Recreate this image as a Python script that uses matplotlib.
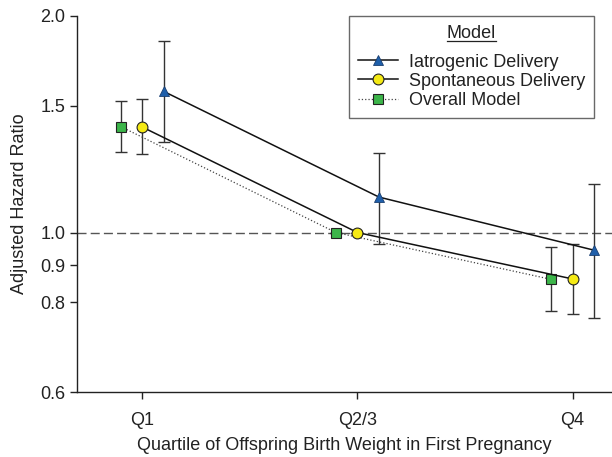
import matplotlib
matplotlib.use('Agg')
import matplotlib.pyplot as plt
from matplotlib.ticker import FixedLocator, NullLocator
from matplotlib.lines import Line2D

plt.rcParams['font.family'] = ['Liberation Sans', 'DejaVu Sans']

# Data
quartiles = ['Q1', 'Q2/3', 'Q4']
x_pos = [1, 2, 3]

iatro_hr = [1.57, 1.12, 0.945]
iatro_lo = [1.335, 0.963, 0.762]
iatro_hi = [1.844, 1.291, 1.169]

spont_hr = [1.401, 1.0, 0.862]
spont_lo = [1.284, 1.0, 0.771]
spont_hi = [1.531, 1.0, 0.963]

overall_hr = [1.403, 1.0, 0.861]
overall_lo = [1.293, 1.0, 0.779]
overall_hi = [1.522, 1.0, 0.954]

y_ticks = [0.6, 0.8, 0.9, 1.0, 1.5, 2.0]
offset = 0.1
fs = 13


def errs(hr, lo, hi):
    return [[h - l for h, l in zip(hr, lo)], [u - h for h, u in zip(hr, hi)]]


fig = plt.figure(figsize=(6.12, 4.57), dpi=100)
ax = fig.add_axes([0.1263, 0.1416, 0.8737, 0.824])

# reference line at HR = 1
ax.axhline(1.0, color='#555555', lw=1.0, ls=(0, (6.5, 3)), zorder=1)

# error bars first
ax.errorbar([x - offset for x in x_pos], overall_hr, yerr=errs(overall_hr, overall_lo, overall_hi),
            fmt='none', ecolor='#333333', elinewidth=1.0, capsize=4, capthick=1.0, zorder=2)
ax.errorbar(x_pos, spont_hr, yerr=errs(spont_hr, spont_lo, spont_hi),
            fmt='none', ecolor='#333333', elinewidth=1.0, capsize=4, capthick=1.0, zorder=2)
ax.errorbar([x + offset for x in x_pos], iatro_hr, yerr=errs(iatro_hr, iatro_lo, iatro_hi),
            fmt='none', ecolor='#333333', elinewidth=1.0, capsize=4, capthick=1.0, zorder=2)

# lines and markers
ax.plot([x - offset for x in x_pos], overall_hr, ls=':', color='#444444', lw=0.9,
        marker='s', ms=6.5, mfc='#3cb54a', mec='#222222', mew=0.8, zorder=3)
ax.plot(x_pos, spont_hr, ls='-', color='#111111', lw=1.1,
        marker='o', ms=7.8, mfc='#f5ea14', mec='#222222', mew=0.8, zorder=4)
ax.plot([x + offset for x in x_pos], iatro_hr, ls='-', color='#111111', lw=1.1,
        marker='^', ms=7.5, mfc='#1f5faa', mec='#1a3f70', mew=0.6, zorder=5)

ax.set_yscale('log')
ax.set_ylim(0.6, 2.0)
ax.set_xlim(0.698, 3.183)
ax.yaxis.set_major_locator(FixedLocator(y_ticks))
ax.yaxis.set_minor_locator(NullLocator())
ax.set_yticklabels(['%.1f' % t for t in y_ticks])
ax.set_xticks(x_pos)
ax.set_xticklabels(quartiles)

for s in ['top', 'right']:
    ax.spines[s].set_visible(False)
for s in ['left', 'bottom']:
    ax.spines[s].set_color('#222222')
    ax.spines[s].set_linewidth(1.0)
ax.tick_params(axis='both', direction='out', length=5, width=1.0, color='#222222',
               labelsize=fs, labelcolor='#222222')
ax.tick_params(axis='x', pad=9)

ax.set_ylabel('Adjusted Hazard Ratio', fontsize=fs, color='#222222', labelpad=9)
ax.set_xlabel('Quartile of Offspring Birth Weight in First Pregnancy', fontsize=fs,
              color='#222222', labelpad=6)

handles = [
    Line2D([], [], ls='-', color='#111111', lw=1.1, marker='^', ms=7.5, mfc='#1f5faa', mec='#1a3f70', mew=0.6),
    Line2D([], [], ls='-', color='#111111', lw=1.1, marker='o', ms=7.8, mfc='#f5ea14', mec='#222222', mew=0.8),
    Line2D([], [], ls=':', color='#444444', lw=0.9, marker='s', ms=6.5, mfc='#3cb54a', mec='#222222', mew=0.8),
]
labels = ['Iatrogenic Delivery', 'Spontaneous Delivery', 'Overall Model']
leg = ax.legend(handles, labels, title='Model', loc='upper right', bbox_to_anchor=(0.966, 1.0),
                borderaxespad=0, fontsize=fs, title_fontsize=fs, frameon=True, fancybox=False,
                edgecolor='#444444', handlelength=2.2, labelspacing=0.12, borderpad=0.5,
                handletextpad=0.6)
leg.get_frame().set_linewidth(1.0)
leg.get_title().set_color('#222222')
for t in leg.get_texts():
    t.set_color('#222222')
# more room between the title and the entries
leg._legend_box.sep = 8.5

# underline the legend title
fig.canvas.draw()
bb = leg.get_title().get_window_extent().transformed(fig.transFigure.inverted())
fig.add_artist(Line2D([bb.x0, bb.x1], [bb.y0 + 0.002, bb.y0 + 0.002], color='#222222', lw=0.9,
                      transform=fig.transFigure))

fig.savefig('out.png', dpi=100)
